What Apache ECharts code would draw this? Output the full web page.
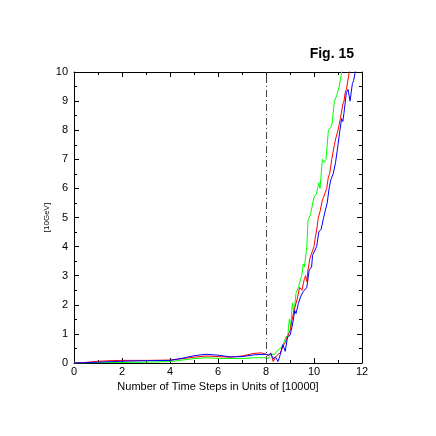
<!DOCTYPE html>
<html>
<head>
<meta charset="utf-8">
<script src="https://cdn.jsdelivr.net/npm/echarts@6/dist/echarts.min.js"></script>
<style>
  html, body { margin: 0; padding: 0; background: #fff; }
  #chart { width: 436px; height: 436px; }
</style>
</head>
<body>
<div id="chart"></div>
<script>
// values: [time step / 10000, energy / 10GeV]
const redData = [[0,0],[0.5,0.02],[1,0.06],[1.5,0.08],[2,0.09],[3,0.09],[4,0.1],[4.5,0.15],[5,0.2],[5.5,0.24],[6,0.22],[6.5,0.2],[7,0.24],[7.5,0.33],[7.8,0.35],[8,0.3],[8.1,0.25],[8.2,0.35],[8.3,0.05],[8.4,0.2],[8.5,0.3],[8.6,0.35],[8.7,0.57],[8.8,0.7],[8.9,0.92],[9.0,1.1],[9.1,1.55],[9.2,1.9],[9.3,2.2],[9.4,2.6],[9.5,2.5],[9.6,2.9],[9.65,3.0],[9.7,2.8],[9.75,3.2],[9.83,3.6],[9.9,3.65],[10.0,4.0],[10.05,4.3],[10.1,4.5],[10.18,5.0],[10.25,5.2],[10.35,5.6],[10.4,5.7],[10.53,6.0],[10.6,6.4],[10.65,6.5],[10.74,7.0],[10.85,7.5],[10.9,7.7],[11.0,8.0],[11.1,8.4],[11.2,8.9],[11.25,9.0],[11.3,9.3],[11.35,9.4],[11.47,10.0],[11.6,10.5]];
const blueData = [[0,0],[0.5,0.01],[1,0.03],[2,0.06],[3,0.08],[4,0.09],[4.5,0.16],[5,0.25],[5.5,0.3],[6,0.27],[6.5,0.21],[7,0.22],[7.5,0.28],[8,0.3],[8.1,0.28],[8.2,0.32],[8.3,0.15],[8.4,0.2],[8.5,0.05],[8.6,0.3],[8.7,0.63],[8.8,0.4],[8.9,0.9],[9.0,0.95],[9.1,1.3],[9.2,1.8],[9.25,1.7],[9.35,2.05],[9.45,2.3],[9.55,2.45],[9.6,2.4],[9.7,2.6],[9.8,3.2],[9.9,3.3],[9.94,3.7],[10.0,3.75],[10.11,4.0],[10.2,4.5],[10.3,4.6],[10.4,5.0],[10.46,5.0],[10.55,5.5],[10.63,6.0],[10.7,6.3],[10.8,6.5],[10.9,6.9],[11.0,7.5],[11.08,8.0],[11.15,8.4],[11.2,8.3],[11.25,8.6],[11.35,9.3],[11.42,9.4],[11.5,9.0],[11.6,9.6],[11.65,9.7],[11.72,10.0],[11.8,10.5]];
const greenData = [[0,0],[1,0.01],[2,0.02],[3,0.03],[4,0.05],[4.5,0.1],[5,0.15],[5.5,0.18],[6,0.16],[7,0.15],[7.5,0.18],[8,0.18],[8.1,0.15],[8.2,0.3],[8.36,0.3],[8.5,0.45],[8.63,0.52],[8.75,0.7],[8.84,0.92],[8.9,0.85],[8.97,1.5],[9.03,1.26],[9.1,2.06],[9.17,1.7],[9.25,2.4],[9.35,2.6],[9.45,2.9],[9.49,3.0],[9.55,3.4],[9.6,3.3],[9.7,4.0],[9.75,4.9],[9.85,5.1],[9.9,5.1],[10.0,5.7],[10.05,5.7],[10.1,5.8],[10.2,6.2],[10.25,6.0],[10.3,6.5],[10.35,7.0],[10.42,6.9],[10.5,7.0],[10.6,8.0],[10.7,8.1],[10.75,8.2],[10.85,9.0],[10.95,9.2],[11.05,9.5],[11.15,10.0],[11.25,10.5]];
const markerX = 8;

const chart = echarts.init(document.getElementById('chart'));
const font = 'Liberation Sans';

const axisBase = {
  axisLine: { show: true, onZero: false, lineStyle: { color: '#000', width: 1 } },
  axisTick: { show: true, inside: true, length: 5, lineStyle: { color: '#000' } },
  minorTick: { show: true, splitNumber: 2, length: 3, lineStyle: { color: '#000' } },
  splitLine: { show: false }
};

function line(data, color) {
  return {
    type: 'line',
    data: data,
    showSymbol: false,
    clip: true,
    lineStyle: { color: color, width: 1 },
    itemStyle: { color: color },
    animation: false
  };
}

const option = {
  animation: false,
  title: {
    text: 'Fig. 15',
    right: 77,
    top: 42,
    textStyle: { fontFamily: font, fontWeight: 'bold', fontSize: 14, color: '#000' }
  },
  grid: { left: 74, right: 74, top: 72, bottom: 73 },
  xAxis: [
    Object.assign({}, axisBase, {
      type: 'value', min: 0, max: 12, interval: 2,
      name: 'Number of Time Steps in Units of [10000]',
      nameLocation: 'middle', nameGap: 11,
      nameTextStyle: { fontFamily: font, fontSize: 11, color: '#000' },
      axisLabel: { fontFamily: font, fontSize: 11, color: '#000', margin: 3 }
    }),
    Object.assign({}, axisBase, {
      type: 'value', min: 0, max: 12, interval: 2, position: 'top',
      axisLabel: { show: false }
    })
  ],
  yAxis: [
    Object.assign({}, axisBase, {
      type: 'value', min: 0, max: 10, interval: 1,
      name: '[10GeV]',
      nameLocation: 'middle', nameGap: 23, nameRotate: 90,
      nameMoveOverlap: false,
      nameTextStyle: { fontFamily: font, fontSize: 8, color: '#000' },
      axisLabel: { fontFamily: font, fontSize: 11, color: '#000', margin: 6 }
    }),
    Object.assign({}, axisBase, {
      type: 'value', min: 0, max: 10, interval: 1, position: 'right',
      axisLabel: { show: false }
    })
  ],
  series: [
    Object.assign(line(greenData, '#00ff00'), {
      markLine: {
        symbol: 'none',
        silent: true,
        label: { show: false },
        lineStyle: { color: '#444', width: 1, type: [7, 3, 1, 3] },
        data: [{ xAxis: markerX }]
      }
    }),
    line(redData, '#ff0000'),
    line(blueData, '#0000ff')
  ]
};

chart.setOption(option);
</script>
</body>
</html>
